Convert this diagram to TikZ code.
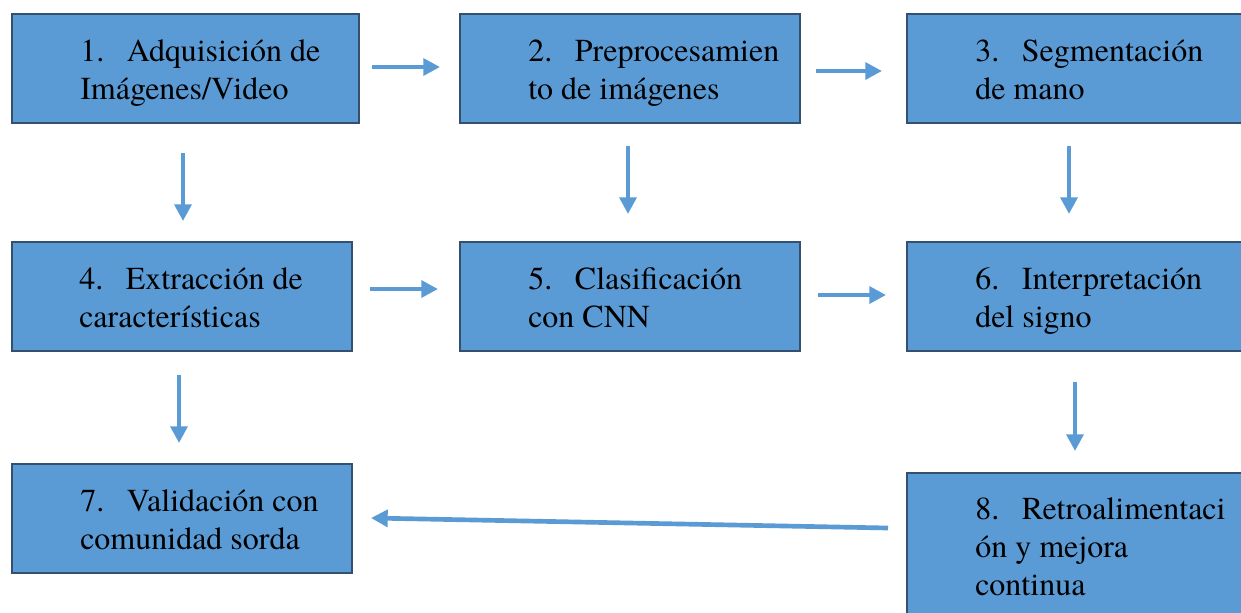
\documentclass[tikz,border=0pt]{standalone}
\usepackage{fontspec}
\setmainfont{TeX Gyre Termes}
\usetikzlibrary{arrows.meta}

\definecolor{boxfill}{HTML}{5B9BD5}
\definecolor{boxline}{HTML}{34506E}
\definecolor{flow}{HTML}{5B9BD5}

% a numbered label: the number sits in a fixed-width slot, the text wraps under it
\newcommand{\stepnum}[1]{\makebox[35pt][l]{#1}}

\tikzset{
  stepbox/.style={draw=boxline, fill=boxfill, line width=1.5pt, inner sep=0pt},
  steptext/.style={anchor=base west, inner sep=0pt, align=left,
    font=\fontsize{24pt}{28.5pt}\selectfont},
  flowarrow/.style={draw=flow, line width=3.5pt,
    -{Triangle[length=12.5pt, width=12.5pt]}},
}

% box from (x1,y1) to (x2,y2) in pixel-like units
\newcommand{\stepbox}[5]{%
  \node[stepbox, minimum width={(#4-#2)*0.75pt}, minimum height={(#5-#3)*0.75pt}]
    (#1) at ({(#2+#4)/2},{(#3+#5)/2}) {};}

\begin{document}
\begin{tikzpicture}[x=0.75pt, y=-0.75pt]
\clip (0,0) rectangle (1241,612);
\fill[white] (0,0) rectangle (1241,612);

% boxes
\stepbox{b1}{12}{14}{359}{123}
\stepbox{b2}{460}{14}{800}{123}
\stepbox{b3}{907}{14}{1250}{123}
\stepbox{b4}{12}{242}{352}{351}
\stepbox{b5}{460}{242}{800}{351}
\stepbox{b6}{907}{242}{1250}{351}
\stepbox{b7}{12}{464}{352}{573}
\stepbox{b8}{907}{473}{1250}{625}

% labels
\node[steptext] (t1) at (80,61) {\parbox[t]{300pt}{\stepnum{1.}Adquisición de\\Imágenes/Video}};
\node[steptext] (t2) at (528,61) {\parbox[t]{300pt}{\stepnum{2.}Preprocesamien\\to de imágenes}};
\node[steptext] (t3) at (975,61) {\parbox[t]{300pt}{\stepnum{3.}Segmentación\\de mano}};
\node[steptext] (t4) at (79,289) {\parbox[t]{300pt}{\stepnum{4.}Extracción de\\características}};
\node[steptext] (t5) at (528,289) {\parbox[t]{300pt}{\stepnum{5.}Clasificación\\con CNN}};
\node[steptext] (t6) at (975,289) {\parbox[t]{300pt}{\stepnum{6.}Interpretación\\del signo}};
\node[steptext] (t7) at (80,511) {\parbox[t]{300pt}{\stepnum{7.}Validación con\\comunidad sorda}};
\node[steptext] (t8) at (975,519) {\parbox[t]{300pt}{\stepnum{8.}Retroalimentaci\\ón y mejora\\continua}};

% arrow end points
\coordinate (a12s) at (372,67);   \coordinate (a12e) at (440,67);
\coordinate (a23s) at (816,71);   \coordinate (a23e) at (882,71);
\coordinate (a14s) at (183,153);  \coordinate (a14e) at (183,221);
\coordinate (a25s) at (628,146);  \coordinate (a25e) at (628,214);
\coordinate (a36s) at (1069,146); \coordinate (a36e) at (1069,214);
\coordinate (a45s) at (370,289);  \coordinate (a45e) at (438,289);
\coordinate (a56s) at (818,295);  \coordinate (a56e) at (886,295);
\coordinate (a47s) at (179,375);  \coordinate (a47e) at (179,443);
\coordinate (a68s) at (1075,382); \coordinate (a68e) at (1075,451);
\coordinate (a87s) at (888,528);  \coordinate (a87e) at (371,518);

% connectors
\draw[flowarrow] (a12s) -- (a12e);
\draw[flowarrow] (a23s) -- (a23e);
\draw[flowarrow] (a14s) -- (a14e);
\draw[flowarrow] (a25s) -- (a25e);
\draw[flowarrow] (a36s) -- (a36e);
\draw[flowarrow] (a45s) -- (a45e);
\draw[flowarrow] (a56s) -- (a56e);
\draw[flowarrow] (a47s) -- (a47e);
\draw[flowarrow] (a68s) -- (a68e);
\draw[flowarrow] (a87s) -- (a87e);
\end{tikzpicture}
\end{document}
